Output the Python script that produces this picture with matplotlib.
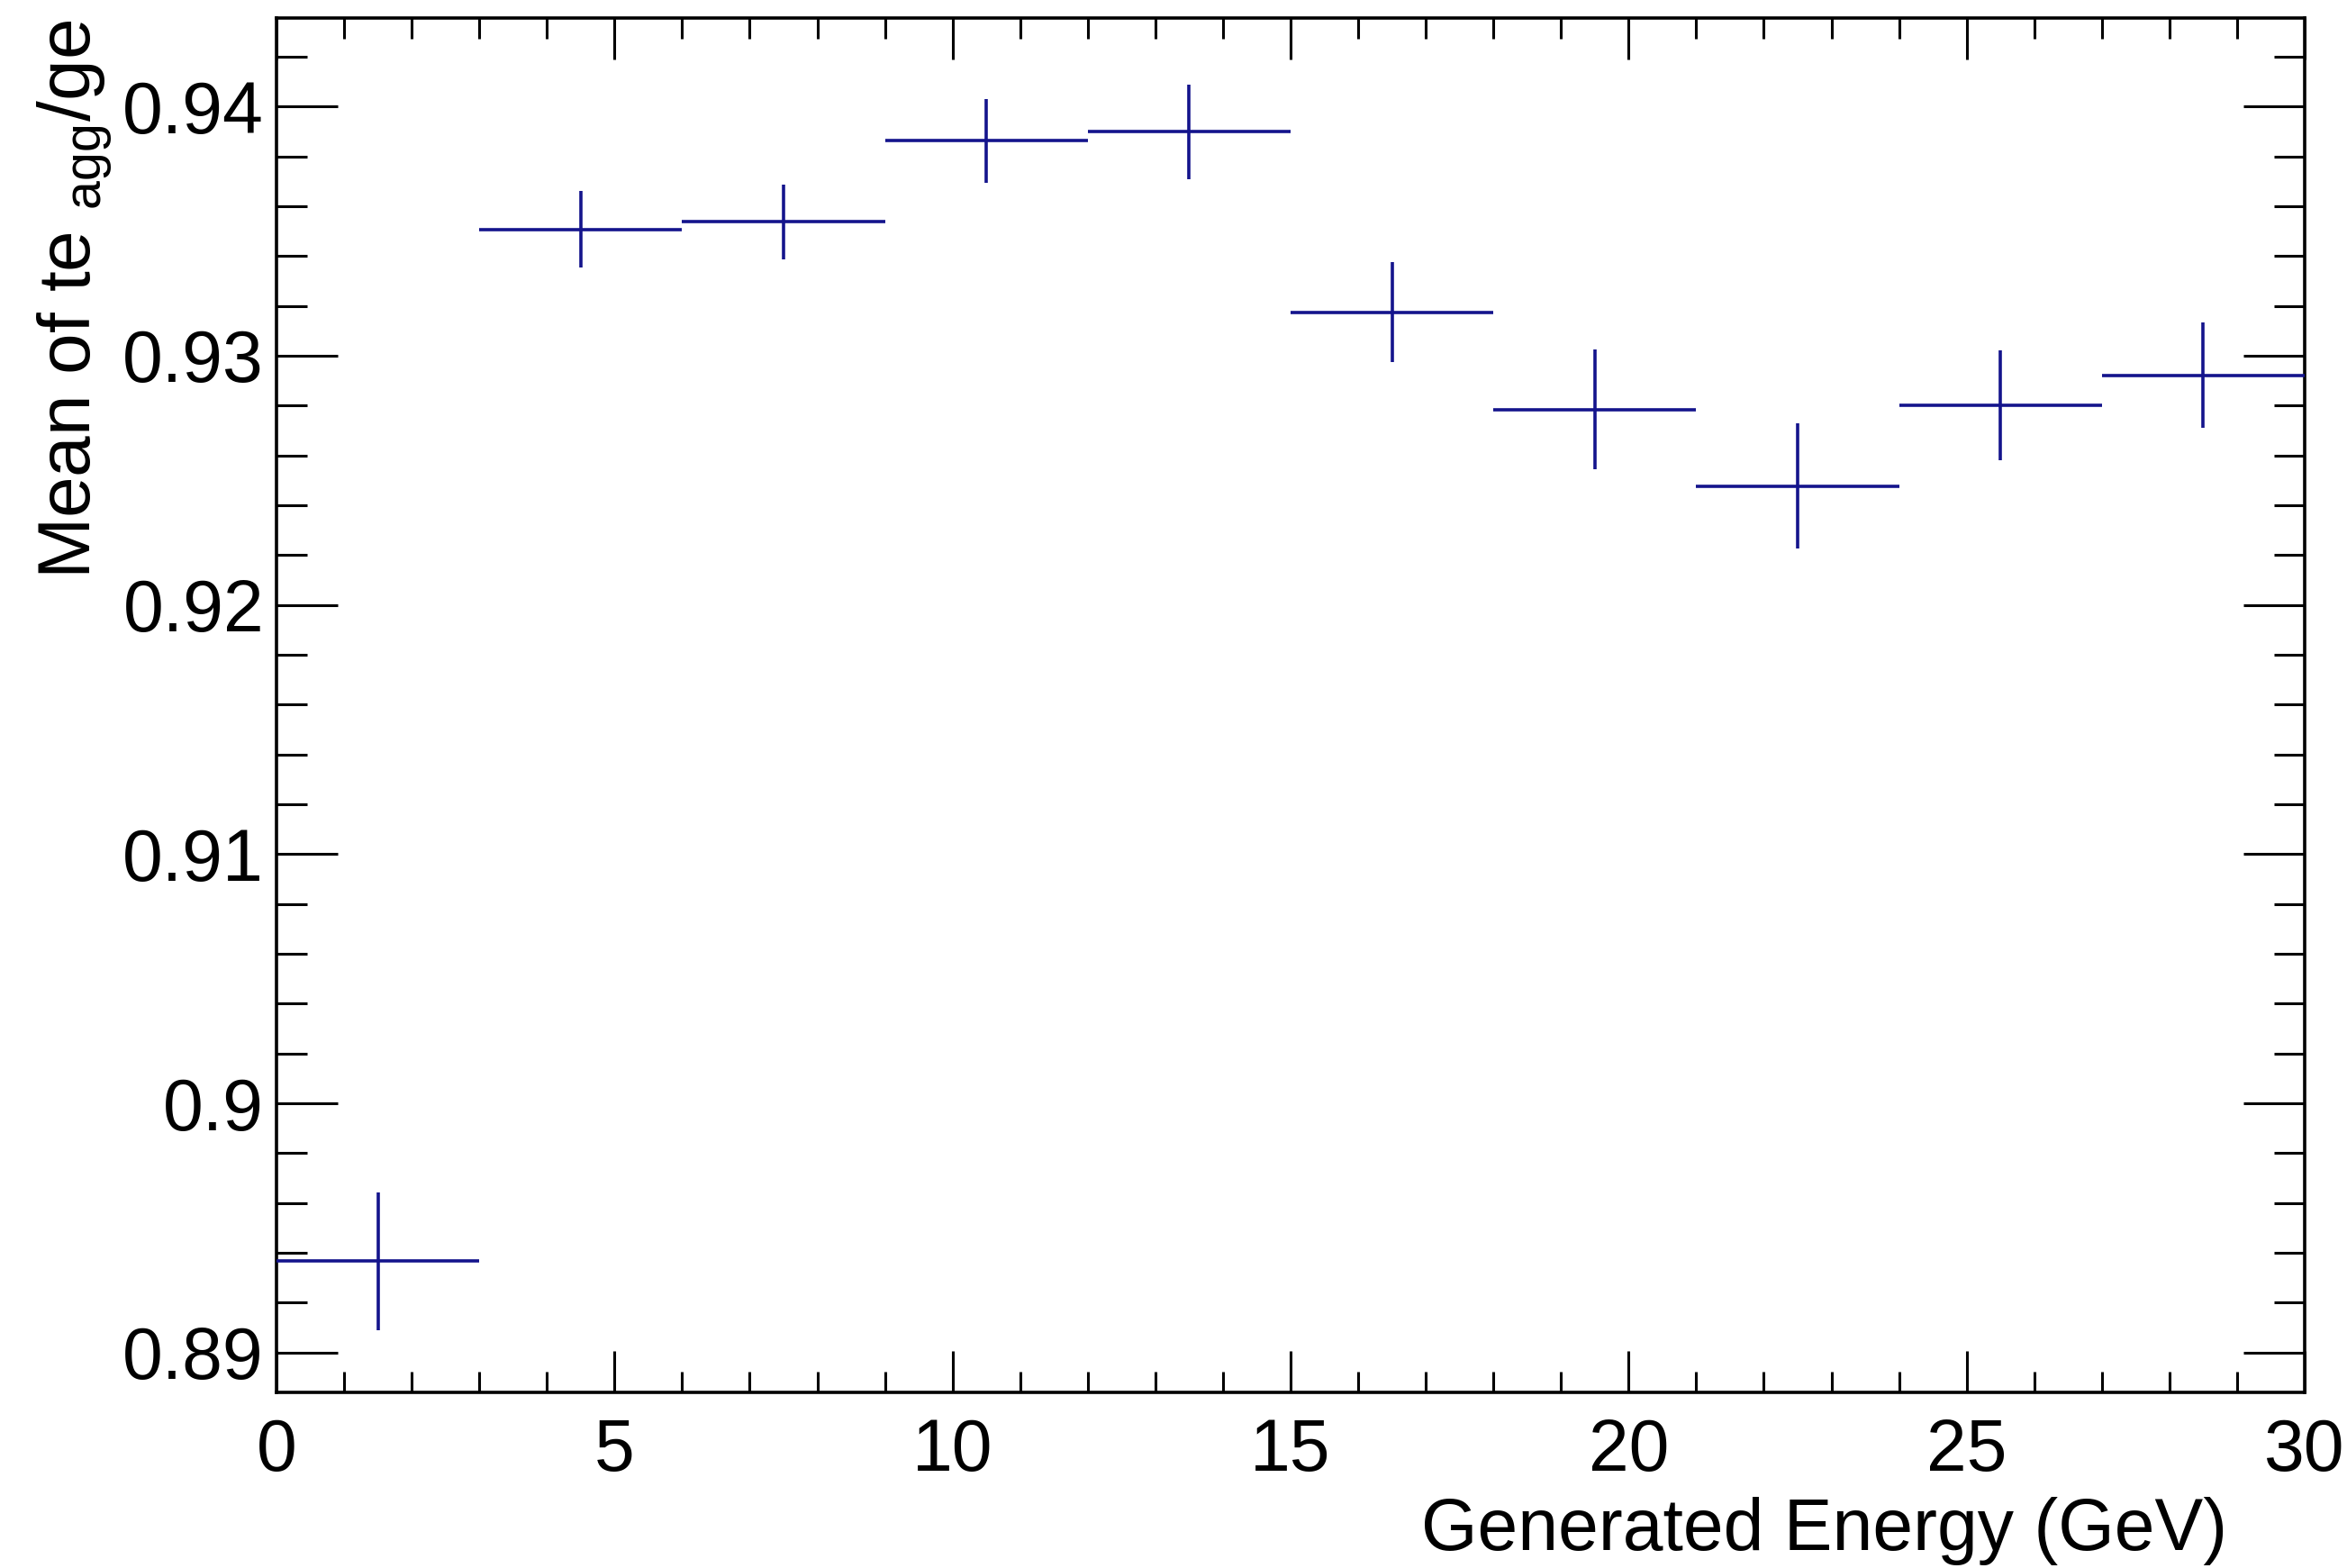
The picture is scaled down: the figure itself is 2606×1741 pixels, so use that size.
import numpy as np
import matplotlib
matplotlib.use("Agg")
import matplotlib.pyplot as plt
from matplotlib.ticker import MultipleLocator, FuncFormatter

plt.rcParams['font.family'] = ['Liberation Sans', 'DejaVu Sans']
plt.rcParams['mathtext.fontset'] = 'custom'
plt.rcParams['mathtext.rm'] = 'Liberation Sans'
plt.rcParams['mathtext.it'] = 'Liberation Sans:italic'
plt.rcParams['mathtext.bf'] = 'Liberation Sans:bold'

# ---- data ----
bin_centers = [1.5, 4.5, 7.5, 10.5, 13.5, 16.5, 19.5, 22.5, 25.5, 28.5]
bin_half_width = [1.5] * 10
mean_ratio = [0.89367, 0.93507, 0.93537, 0.93862, 0.93898,
              0.93174, 0.92784, 0.92477, 0.92802, 0.92922]
mean_err = [0.00276, 0.00153, 0.00150, 0.00168, 0.00190,
            0.00200, 0.00240, 0.00250, 0.00220, 0.00210]
x_range = (0, 30)
y_range = (0.8884, 0.94355)
x_title = "Generated Energy (GeV)"
y_title = r"Mean of te $_{\mathregular{agg}}$/ge"

W, H = 2606, 1741
dpi = 100
fig = plt.figure(figsize=(W / dpi, H / dpi), dpi=dpi)
left, right, top, bottom = 307 / W, 2559 / W, 1 - 20 / H, 1 - 1546 / H
ax = fig.add_axes([left, bottom, right - left, top - bottom])

color = '#14148c'
ax.errorbar(bin_centers, mean_ratio, xerr=bin_half_width, yerr=mean_err,
            fmt='none', ecolor=color, elinewidth=2.6, capsize=0, zorder=3)

ax.set_xlim(*x_range)
ax.set_ylim(*y_range)

ax.xaxis.set_major_locator(MultipleLocator(5))
ax.xaxis.set_minor_locator(MultipleLocator(1))
ax.yaxis.set_major_locator(MultipleLocator(0.01))
ax.yaxis.set_minor_locator(MultipleLocator(0.002))

ax.xaxis.set_major_formatter(FuncFormatter(lambda v, p: f"{round(v, 6):g}"))
ax.yaxis.set_major_formatter(FuncFormatter(lambda v, p: f"{round(v, 6):g}"))

fs = 58
ax.tick_params(axis='both', which='both', direction='in', top=True, right=True,
               width=2.2, colors='black', labelsize=fs)
ax.tick_params(axis='x', which='major', length=33, pad=20)
ax.tick_params(axis='x', which='minor', length=16.5)
ax.tick_params(axis='y', which='major', length=49, pad=10)
ax.tick_params(axis='y', which='minor', length=24.5)

for s in ax.spines.values():
    s.set_linewidth(2.6)

fig.text(2473 / W, 1 - 1700 / H, x_title, ha='right', va='center', fontsize=fs)
fig.text(84 / W, 1 - 22 / H, y_title, ha='center', va='top', rotation=90, fontsize=fs + 1)

fig.savefig("out.png", dpi=dpi, facecolor='white')
